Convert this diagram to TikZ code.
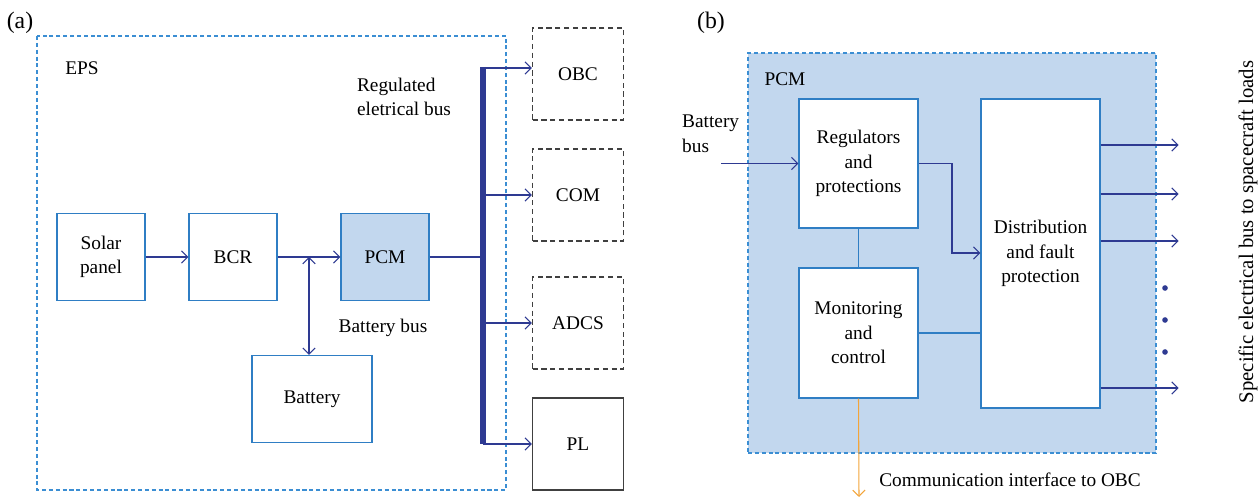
\documentclass[tikz,border=0pt]{standalone}
\usepackage{fontspec}
\setmainfont{Liberation Serif}
\usetikzlibrary{arrows.meta}

\definecolor{boxblue}{HTML}{2F7EC4}
\definecolor{wireblue}{HTML}{2E3A92}
\definecolor{pcmfill}{HTML}{C2D7EE}
\definecolor{dashblue}{HTML}{3B8ED3}
\definecolor{commorange}{HTML}{F2A43A}

\begin{document}
\begin{tikzpicture}[x=0.02cm, y=-0.02cm,
    >={Straight Barb[length=3.5pt, width=7pt]},
    font=\fontsize{11}{14}\selectfont,
    block/.style={draw=boxblue, line width=0.8pt, fill=white, align=center, inner sep=0pt},
    load/.style={draw=black!75, dash pattern=on 3pt off 2pt, line width=0.8pt,
        minimum width=1.82cm, minimum height=1.84cm},
    wire/.style={draw=wireblue, line width=0.6pt},
    frame/.style={draw=dashblue, line width=0.7pt, dash pattern=on 2.3pt off 1.6pt},
    panel/.style={font=\fontsize{13.5}{16}\selectfont}]
    \useasboundingbox (0,0) rectangle (1258,499);

    % (a) EPS
    \node[panel] (a) at (20,23) {(a)};
    \draw[frame] (37,36) rectangle (506,490);
    \node (eps) at (82,68) {EPS};

    \node[block, minimum width=1.76cm, minimum height=1.74cm] (solar) at (101,257) {Solar\\panel};
    \node[block, minimum width=1.76cm, minimum height=1.74cm] (bcr) at (233,257) {BCR};
    \node[block, fill=pcmfill, minimum width=1.76cm, minimum height=1.74cm] (pcm) at (385,257) {PCM};
    \node[block, minimum width=2.4cm, minimum height=1.74cm] (battery) at (312,399) {Battery};
    \node (bbus) at (383,328) {Battery bus};
    \node[align=left] (regbus) at (404,97) {Regulated\\eletrical bus};

    \node[load] (obc) at (578,74) {OBC};
    \node[load] (com) at (578,195) {COM};
    \node[load] (adcs) at (578,323) {ADCS};
    \node[load, solid] (pl) at (578,444) {PL};

    \coordinate (j) at (309,257);
    \coordinate (bustop) at (483,67);
    \coordinate (busbot) at (483,444);
    \coordinate (tobc) at (483,68);

    \draw[wire, ->] (solar) -- (bcr);
    \draw[wire, ->] (bcr) -- (pcm);
    \draw[wire, <->] (j) -- (j |- battery.north);
    \draw[wire] (pcm.east) -- (pcm.east -| bustop);
    \draw[wire, ->] (tobc) -- (tobc -| obc.west);
    \draw[wire, ->] (com.west -| bustop) -- (com.west);
    \draw[wire, ->] (adcs.west -| bustop) -- (adcs.west);
    \draw[wire, ->] (pl.west -| bustop) -- (pl.west);
    \draw[draw=wireblue, line width=3pt] (bustop) -- (busbot);

    % (b) PCM
    \node[panel] (b) at (711,23) {(b)};
    \node[frame, fill=pcmfill, minimum width=8.16cm, minimum height=8cm] (pcmbox) at (952,253) {};
    \node (pcmlbl) at (785,79) {PCM};

    \node[block, minimum width=2.38cm, minimum height=2.58cm] (regs) at (858.5,163.5) {Regulators\\and\\protections};
    \node[block, minimum width=2.38cm, minimum height=2.6cm] (mon) at (858.5,333) {Monitoring\\and\\control};
    \node[block, minimum width=2.38cm, minimum height=6.18cm] (dist) at (1040.5,253.5) {Distribution\\and fault\\protection};

    \node[align=left, anchor=west] (bbusb) at (676,134) {Battery\\bus};
    \coordinate (bin) at (721,163.5);
    \coordinate (bend) at (952,253);
    \coordinate (obcend) at (859,497);

    \draw[wire, ->] (bin) -- (regs.west);
    \draw[wire, draw=boxblue] (regs) -- (mon);
    \draw[wire, ->] (regs.east) -| (bend) -- (bend -| dist.west);
    \draw[wire, draw=boxblue] (mon.east) -- (mon.east -| dist.west);
    \foreach \y in {145,194,241,388}
        \draw[wire, ->] (dist.east |- 0,\y) -- ++(78,0);
    \foreach \y in {288,320,352}
        \fill[wireblue] (1165,\y) circle (1.6pt);
    \node[rotate=90, font=\fontsize{11.8}{14}\selectfont] (loads) at (1248,232) {Specific electrical bus to spacecraft loads};

    \draw[commorange, line width=0.6pt, ->] (mon.south) -- (obcend);
    \node (comm) at (1010,480) {Communication interface to OBC};
\end{tikzpicture}
\end{document}
